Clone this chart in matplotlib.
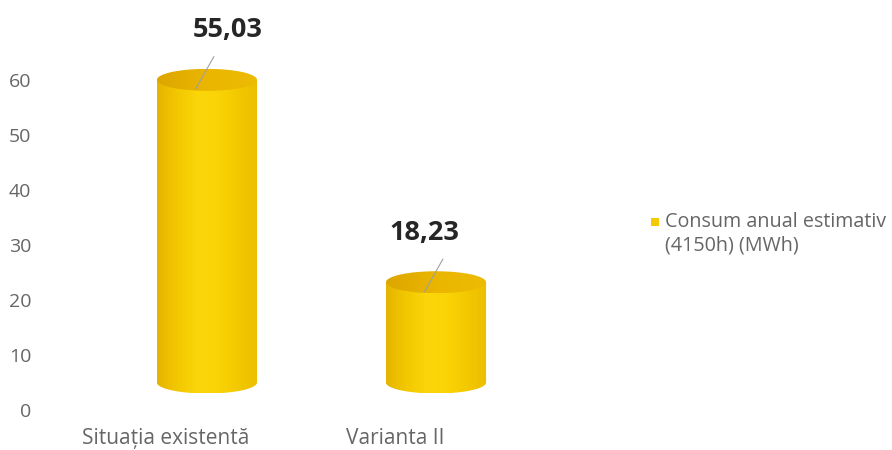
import numpy as np
import matplotlib
matplotlib.use("Agg")
import matplotlib.pyplot as plt
from matplotlib.patches import Ellipse, PathPatch, Rectangle
from matplotlib.path import Path
from matplotlib.colors import LinearSegmentedColormap

# data
categories = ["Situația existentă", "Varianta II"]
values = [55.03, 18.23]
labels = ["55,03", "18,23"]
series_name = ["Consum anual estimativ", "(4150h) (MWh)"]
yticks = [0, 10, 20, 30, 40, 50, 60]

plt.rcParams['font.family'] = ['Open Sans', 'DejaVu Sans']

W, H = 892, 450
fig = plt.figure(figsize=(W / 100, H / 100), dpi=100)
# axes placed in pixel terms: y=0 at 410px, 5.5 px per unit
ax = fig.add_axes([45 / W, 40 / H, (600 - 45) / W, 363 / H])

base = 5.0      # 3d floor offset
bw = 0.437      # bar width
eh = 4.0        # ellipse height (data units)
depth = 0.18    # label shift for perspective

body_cmap = LinearSegmentedColormap.from_list(
    "cyl", ["#E6B400", "#F2C800", "#FBD608", "#FAD406", "#F3C900", "#ECBE00"])
top_cmap = LinearSegmentedColormap.from_list("top", ["#DDA600", "#EAB600", "#EDBA04"])

x = np.arange(len(values))
for xi, v in zip(x, values):
    x0, x1 = xi - bw / 2, xi + bw / 2
    top = base + v
    t = np.linspace(np.pi, 2 * np.pi, 60)
    bx = xi + bw / 2 * np.cos(t)
    by = base + eh / 2 * np.sin(t)
    verts = list(zip(bx, by)) + [(x1, top), (x0, top), (bx[0], by[0])]
    clip = PathPatch(Path(verts), transform=ax.transData, facecolor="none", edgecolor="none")
    ax.add_patch(clip)
    grad = np.linspace(0, 1, 200).reshape(1, -1)
    im = ax.imshow(grad, cmap=body_cmap, aspect="auto",
                   extent=(x0, x1, base - eh / 2, top), zorder=2)
    im.set_clip_path(clip)
    # top face
    ell = Ellipse((xi, top), bw, eh, facecolor="none", edgecolor="none",
                  transform=ax.transData)
    ax.add_patch(ell)
    im2 = ax.imshow(grad, cmap=top_cmap, aspect="auto",
                    extent=(x0, x1, top - eh / 2, top + eh / 2), zorder=3)
    im2.set_clip_path(ell)
    # leader line
    ax.plot([xi - 0.05, xi + 0.03], [top - 1.7, top + 4.2],
            color="#A0A0A0", lw=0.8, zorder=4)

for xi, v, lab, dx in zip(x, values, labels, [0.09, -0.05]):
    ax.text(xi + dx, base + v + 9, lab, ha="center", va="center",
            fontsize=19.5, fontweight="bold", color="#262626", zorder=5)

ax.set_xlim(-0.707, 1.716)
ax.set_ylim(0, 66)
ax.set_yticks(yticks)
ax.set_xticks(x - depth)
ax.set_xticklabels(categories)
ax.tick_params(axis="y", length=0, pad=10, labelsize=14, labelcolor="#666666")
ax.tick_params(axis="x", length=0, pad=13, labelsize=15, labelcolor="#666666")
for s in ax.spines.values():
    s.set_visible(False)

# legend drawn by hand so the key sits by the first line
fig.add_artist(Rectangle((651 / W, 1 - 226 / H), 8 / W, 8 / H,
                         transform=fig.transFigure, facecolor="#F5C800", edgecolor="none"))
fig.text(665 / W, 1 - 222 / H, series_name[0], ha="left", va="center",
         fontsize=14.2, color="#666666")
fig.text(665 / W, 1 - 246 / H, series_name[1], ha="left", va="center",
         fontsize=14.2, color="#666666")

fig.savefig("out.png", dpi=100)
